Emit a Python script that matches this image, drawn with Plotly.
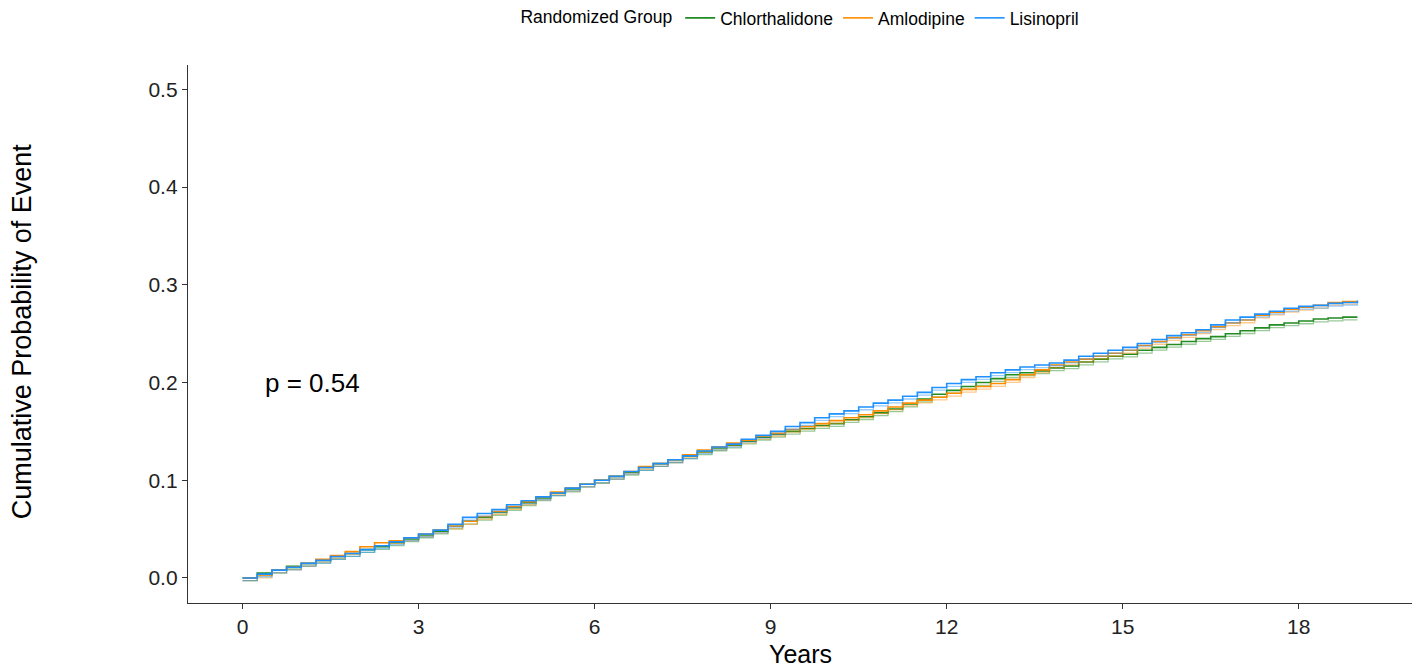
import plotly.graph_objects as go

# ---- data ----
years = [i * 0.25 for i in range(77)]  # 0 .. 19.0

chlorthalidone = [
    0.000, 0.005, 0.008, 0.012, 0.015, 0.018, 0.022, 0.025, 0.029, 0.032,
    0.036, 0.040, 0.044, 0.048, 0.053, 0.058, 0.062, 0.067, 0.072, 0.077,
    0.082, 0.087, 0.091, 0.096, 0.100, 0.104, 0.108, 0.113, 0.117, 0.121,
    0.125, 0.129, 0.133, 0.136, 0.140, 0.144, 0.147, 0.150, 0.153, 0.156,
    0.158, 0.162, 0.165, 0.169, 0.173, 0.178, 0.183, 0.188, 0.192, 0.196,
    0.200, 0.204, 0.208, 0.210, 0.212, 0.215, 0.217, 0.221, 0.224, 0.227,
    0.229, 0.233, 0.236, 0.239, 0.242, 0.245, 0.247, 0.250, 0.253, 0.256,
    0.259, 0.261, 0.263, 0.265, 0.266, 0.267, 0.267,
]
amlodipine = [
    0.000, 0.003, 0.008, 0.011, 0.015, 0.019, 0.023, 0.027, 0.032, 0.036,
    0.038, 0.041, 0.045, 0.049, 0.053, 0.058, 0.063, 0.068, 0.073, 0.078,
    0.083, 0.088, 0.092, 0.096, 0.100, 0.104, 0.109, 0.114, 0.117, 0.121,
    0.126, 0.131, 0.134, 0.138, 0.141, 0.145, 0.148, 0.152, 0.155, 0.158,
    0.161, 0.164, 0.167, 0.171, 0.175, 0.179, 0.182, 0.185, 0.189, 0.193,
    0.196, 0.199, 0.203, 0.208, 0.213, 0.218, 0.221, 0.224, 0.227, 0.230,
    0.233, 0.238, 0.242, 0.246, 0.249, 0.253, 0.257, 0.261, 0.264, 0.269,
    0.272, 0.275, 0.277, 0.279, 0.282, 0.283, 0.283,
]
lisinopril = [
    0.000, 0.004, 0.008, 0.011, 0.015, 0.018, 0.022, 0.025, 0.029, 0.033,
    0.037, 0.041, 0.045, 0.049, 0.055, 0.062, 0.066, 0.070, 0.075, 0.079,
    0.083, 0.087, 0.092, 0.096, 0.100, 0.104, 0.109, 0.113, 0.117, 0.121,
    0.125, 0.130, 0.134, 0.137, 0.142, 0.146, 0.150, 0.155, 0.159, 0.164,
    0.168, 0.171, 0.175, 0.179, 0.182, 0.186, 0.190, 0.195, 0.199, 0.203,
    0.206, 0.210, 0.213, 0.216, 0.218, 0.220, 0.223, 0.227, 0.230, 0.233,
    0.236, 0.240, 0.244, 0.248, 0.251, 0.254, 0.259, 0.264, 0.267, 0.270,
    0.273, 0.276, 0.278, 0.279, 0.281, 0.282, 0.284,
]

groups = ["Chlorthalidone", "Amlodipine", "Lisinopril"]
series = [chlorthalidone, amlodipine, lisinopril]
colors = ["#228B22", "#FF8C00", "#1E90FF"]

x_ticks = [0, 3, 6, 9, 12, 15, 18]
y_ticks = [0.0, 0.1, 0.2, 0.3, 0.4, 0.5]
y_tick_labels = ["0.0", "0.1", "0.2", "0.3", "0.4", "0.5"]
p_label = "p = 0.54"
x_title = "Years"
y_title = "Cumulative Probability of Event"

LINE_GAP = 0.0028  # visual double-stroke gap
FONT = "Liberation Sans, Arial, sans-serif"

fig = go.Figure()
for name, ys, col in zip(groups, series, colors):
    fig.add_trace(go.Scatter(
        x=years, y=[v - LINE_GAP for v in ys], mode="lines",
        line=dict(color=col, width=1.3, shape="hv"), opacity=0.45,
        showlegend=False, hoverinfo="skip", legendgroup=name,
    ))
    fig.add_trace(go.Scatter(
        x=years, y=ys, mode="lines", name=name, legendgroup=name,
        line=dict(color=col, width=1.6, shape="hv"),
    ))

fig.add_annotation(
    x=1.2, y=0.2, xref="x", yref="y", text=p_label, showarrow=False,
    font=dict(family=FONT, size=26, color="black"),
)
# axis titles
fig.add_annotation(
    x=0.5, y=-0.0948, xref="paper", yref="paper", text=x_title, showarrow=False,
    xanchor="center", yanchor="middle",
    font=dict(family=FONT, size=25, color="black"),
)
fig.add_annotation(
    x=-0.1356, y=0.505, xref="paper", yref="paper", text=y_title, showarrow=False,
    xanchor="center", yanchor="middle", textangle=-90,
    font=dict(family=FONT, size=27, color="black"),
)

axis_common = dict(
    showgrid=False, zeroline=False, showline=True, linecolor="#333333", linewidth=1.3,
    ticks="outside", ticklen=5, tickwidth=1.2, tickcolor="#333333",
    tickfont=dict(family=FONT, size=21, color="#222222"),
    automargin=False,
)

fig.update_layout(
    width=1421, height=668,
    margin=dict(l=188, r=9, t=65, b=65),
    paper_bgcolor="white", plot_bgcolor="white",
    font=dict(family=FONT),
    xaxis=dict(range=[-0.93, 19.93], tickvals=x_ticks, **axis_common),
    yaxis=dict(range=[-0.0256, 0.525], tickvals=y_ticks, ticktext=y_tick_labels,
               **axis_common),
    legend=dict(
        orientation="h", x=0.564, xanchor="center", xref="container",
        y=1.0, yanchor="top", yref="container",
        title=dict(text="Randomized Group", side="left",
                   font=dict(size=17.5, color="black")),
        font=dict(size=17.5, color="black"), itemwidth=30,
        bgcolor="rgba(0,0,0,0)",
    ),
    showlegend=True,
)

fig.write_html("out.html", config={"displayModeBar": False},
               post_script="document.body.style.margin='0';")
